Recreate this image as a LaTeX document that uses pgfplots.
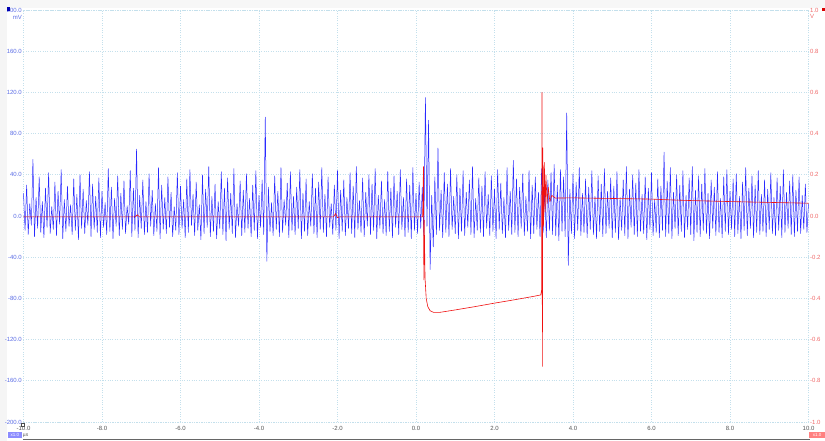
\documentclass[border=0pt]{standalone}
\usepackage{fontspec}
\setmainfont{Liberation Sans}
\usepackage{pgfplots}
\pgfplotsset{compat=1.18}
\definecolor{gridc}{HTML}{C4E0EC}
\definecolor{lblue}{HTML}{5C6EE6}
\definecolor{lred}{HTML}{F06A6A}
\definecolor{lgray}{HTML}{555555}
\definecolor{sigblue}{HTML}{2A2AFF}
\definecolor{sigred}{HTML}{F01010}
\begin{document}
\begin{tikzpicture}
\fill[white] (-23.5pt,-19pt) rectangle (801.5pt,422pt);
\fill[black!4] (-23.5pt,-19pt) rectangle (-16.5pt,422pt);
\fill[black!3] (-16.5pt,414pt) rectangle (801.5pt,422pt);
\begin{axis}[
  at={(0pt,0pt)}, anchor=south west,
  scale only axis, width=785pt, height=412pt,
  xmin=-10, xmax=10, ymin=-200, ymax=200,
  xtick={-10,-8,-6,-4,-2,0,2,4,6,8,10},
  xticklabels={-10.0,-8.0,-6.0,-4.0,-2.0,0.0,2.0,4.0,6.0,8.0,10.0},
  ytick={-200,-160,-120,-80,-40,0,40,80,120,160,200},
  yticklabels={-200.0,-160.0,-120.0,-80.0,-40.0,0.0,40.0,80.0,120.0,160.0,200.0},
  major tick length=0pt,
  grid=major,
  grid style={dash pattern=on 0.8pt off 1.6pt, gridc, line width=0.6pt},
  axis line style={dash pattern=on 0.8pt off 1.6pt, gridc, line width=0.6pt},
  tick label style={font=\fontsize{6}{7}\selectfont},
  yticklabel style={anchor=east, inner sep=0pt, xshift=-1.5pt, text=lblue},
  xticklabel style={anchor=north, inner sep=0pt, yshift=-4.5pt, text=lgray},
]
\addplot[sigblue, line width=0.5pt, line join=round] table[row sep=\\, header=false, x expr=\coordindex*0.04-10, y index=0] {
22\\-14\\30\\-18\\12\\-9\\55\\-20\\18\\-12\\
38\\-16\\14\\-21\\27\\-11\\42\\-17\\9\\-13\\
33\\-19\\24\\-8\\45\\-22\\16\\-15\\29\\-10\\
11\\-18\\36\\-14\\21\\-23\\40\\-12\\26\\-17\\
15\\-9\\43\\-20\\31\\-13\\19\\-16\\37\\-21\\
24\\-11\\13\\-18\\46\\-15\\28\\-22\\17\\-10\\
39\\-19\\22\\-13\\34\\-17\\10\\-8\\44\\-20\\
27\\-14\\65\\-21\\20\\-12\\35\\-18\\14\\-16\\
41\\-10\\25\\-19\\12\\-15\\47\\-22\\30\\-13\\
18\\-17\\38\\-11\\23\\-20\\9\\-14\\42\\-18\\
29\\-12\\16\\-21\\36\\-16\\45\\-9\\21\\-19\\
33\\-14\\11\\-23\\40\\-17\\26\\-11\\48\\-20\\
19\\-15\\31\\-22\\14\\-12\\43\\-18\\27\\-24\\
37\\-13\\22\\-17\\46\\-21\\12\\-10\\34\\-19\\
25\\-16\\41\\-12\\17\\-20\\30\\-14\\44\\-22\\
20\\-11\\35\\-18\\96\\-44\\28\\-15\\13\\-19\\
39\\-13\\24\\-20\\47\\-16\\16\\-9\\32\\-21\\
43\\-14\\19\\-18\\28\\-12\\45\\-22\\22\\-15\\
36\\-19\\14\\-10\\41\\-17\\27\\-21\\33\\-13\\
47\\-16\\21\\-20\\38\\-11\\12\\-18\\30\\-14\\
44\\-22\\25\\-15\\35\\-19\\18\\-12\\42\\-17\\
29\\-21\\48\\-13\\15\\-16\\37\\-20\\23\\-10\\
40\\-18\\31\\-14\\46\\-22\\20\\-12\\34\\-17\\
16\\-19\\43\\-15\\27\\-21\\39\\-11\\24\\-18\\
45\\-13\\18\\-20\\36\\-16\\30\\-22\\47\\-14\\
22\\-17\\33\\-12\\28\\-19\\115\\-10\\93\\-52\\
20\\-30\\38\\-18\\66\\-14\\25\\-21\\42\\-16\\
31\\-20\\46\\-13\\19\\-17\\40\\-22\\27\\-15\\
44\\-19\\23\\-11\\35\\-18\\48\\-21\\17\\-14\\
37\\-16\\29\\-20\\43\\-12\\21\\-19\\39\\-15\\
26\\-22\\45\\-13\\32\\-17\\18\\-21\\47\\-14\\
24\\-18\\54\\-16\\36\\-20\\28\\-12\\41\\-19\\
19\\-15\\44\\-22\\30\\-17\\38\\-13\\23\\-20\\
46\\-16\\27\\-21\\35\\-14\\42\\-18\\50\\-19\\
30\\-24\\45\\-15\\38\\-20\\100\\-48\\26\\-17\\
41\\-22\\33\\-14\\47\\-19\\22\\-16\\36\\-21\\
28\\-13\\44\\-18\\19\\-22\\39\\-15\\31\\-20\\
46\\-17\\24\\-12\\37\\-21\\29\\-16\\43\\-23\\
18\\-14\\35\\-19\\48\\-22\\26\\-11\\40\\-18\\
32\\-20\\45\\-15\\21\\-17\\38\\-23\\27\\-13\\
42\\-19\\16\\-16\\36\\-21\\29\\-14\\62\\-20\\
34\\-17\\47\\-22\\23\\-12\\40\\-19\\30\\-15\\
44\\-21\\20\\-13\\37\\-18\\48\\-24\\25\\-16\\
39\\-20\\31\\-14\\46\\-17\\22\\-22\\35\\-12\\
28\\-19\\43\\-16\\17\\-21\\38\\-15\\45\\-18\\
24\\-13\\36\\-20\\41\\-17\\19\\-22\\33\\-14\\
47\\-19\\27\\-12\\39\\-21\\30\\-16\\44\\-18\\
21\\-15\\35\\-20\\26\\-13\\42\\-17\\18\\-19\\
37\\-14\\29\\-21\\45\\-16\\23\\-12\\34\\-18\\
40\\-20\\25\\-15\\38\\-17\\20\\-13\\31\\-16\\
12\\
};
\end{axis}
\begin{axis}[
  at={(0pt,0pt)}, anchor=south west,
  scale only axis, width=785pt, height=412pt,
  xmin=-10, xmax=10, ymin=-1, ymax=1,
  axis line style={draw=none},
  xtick=\empty,
  ytick={-1,-0.8,-0.6,-0.4,-0.2,0,0.2,0.4,0.6,0.8,1},
  yticklabels={-1.0,-0.8,-0.6,-0.4,-0.2,0.0,0.2,0.4,0.6,0.8,1.0},
  ytick pos=right, yticklabel pos=right,
  major tick length=0pt,
  tick label style={font=\fontsize{6}{7}\selectfont},
  yticklabel style={anchor=west, inner sep=0pt, xshift=1.5pt, text=lred},
]
\addplot[sigred, line width=0.6pt, line join=round] coordinates {
(-10,-0.004) (-7.15,-0.004) (-7.1,0.006) (-7.05,-0.004) (-2.1,-0.004) (-2.05,0.012) (-2.0,-0.008) (-1.95,-0.004)
(0.17,-0.004) (0.19,0.24) (0.2,-0.31) (0.21,-0.02) (0.23,-0.3) (0.26,-0.4) (0.3,-0.44) (0.36,-0.46) (0.45,-0.468)
(0.6,-0.468) (1.0,-0.456) (1.5,-0.44) (2.0,-0.423) (2.5,-0.407) (3.0,-0.39) (3.18,-0.383) (3.2,-0.36)
(3.21,0.6) (3.22,-0.73) (3.23,0.33) (3.25,-0.05) (3.27,0.26) (3.29,0.02) (3.31,0.2) (3.34,0.06) (3.37,0.14)
(3.41,0.07) (3.46,0.1) (3.55,0.087) (4,0.088) (5,0.085) (6,0.082) (6.5,0.078) (7,0.075) (8,0.07) (9,0.066) (10,0.062)
};
\end{axis}
% decorations
\node[anchor=east, inner sep=0pt, font=\fontsize{6}{7}\selectfont, text=lblue] at (-1.5pt,405pt) {mV};
\node[anchor=west, inner sep=0pt, font=\fontsize{6}{7}\selectfont, text=lred] at (1.5pt+785pt,406pt) {V};
\fill[blue!70!black] (-16.5pt,410.5pt) rectangle (-13.5pt,414.5pt);
\fill[red!85!black] (798pt,410.5pt) rectangle (801.5pt,414pt);
\draw[black!70, line width=0.5pt, fill=white] (-2.5pt,-4pt) rectangle (0.5pt,-1pt);
\draw[black!60, line width=1pt] (-0.5pt,-17.5pt) -- (786pt,-17.5pt);
\fill[blue!45] (-15.5pt,-16.5pt) rectangle (-1.8pt,-10pt);
\node[inner sep=0pt, font=\fontsize{4.5}{5}\selectfont, text=white] at (-8.6pt,-13.2pt) {x1.0};
\node[anchor=west, inner sep=0pt, font=\fontsize{5}{6}\selectfont, text=lgray] at (-0.8pt,-13.5pt) {µs};
\fill[red!50] (785.5pt,-16.5pt) rectangle (801.5pt,-10pt);
\node[inner sep=0pt, font=\fontsize{4.5}{5}\selectfont, text=white] at (793.5pt,-13.2pt) {x1.0};
\pgfresetboundingbox
\useasboundingbox (-23.5pt,-19pt) rectangle (801.5pt,422pt);
\end{tikzpicture}
\end{document}
